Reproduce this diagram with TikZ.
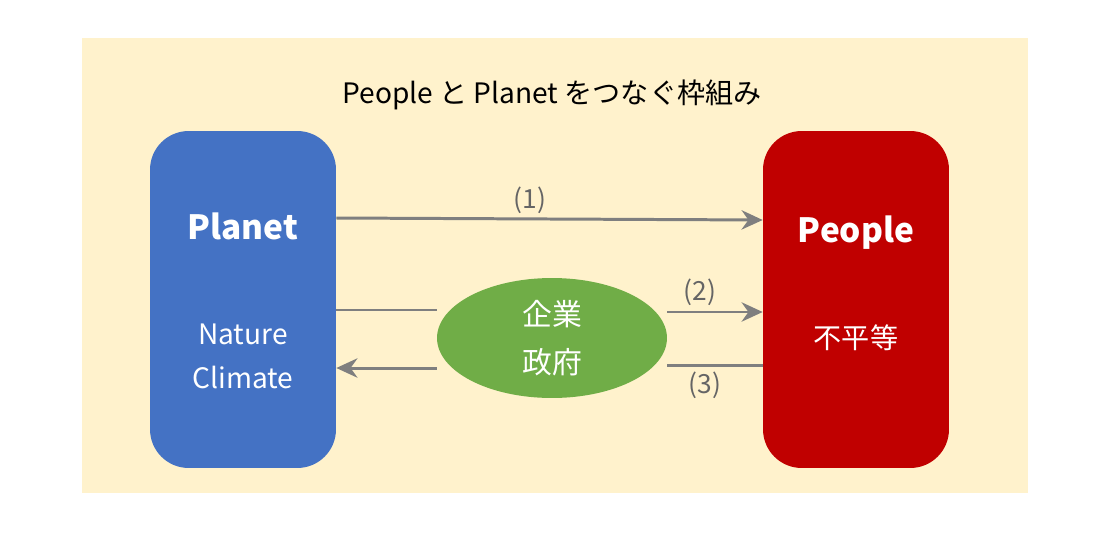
\documentclass[tikz,border=0pt]{standalone}
\usepackage{fontspec}
\setmainfont{Noto Sans CJK JP}
\usetikzlibrary{positioning,shapes.geometric,arrows.meta}
\definecolor{bgyellow}{HTML}{FFF2CC}
\definecolor{planetblue}{HTML}{4472C4}
\definecolor{peoplered}{HTML}{C00000}
\definecolor{actorgreen}{HTML}{70AD47}
\definecolor{flowgray}{HTML}{7F7F7F}
\tikzset{
  sidebox/.style={rounded corners=22pt, minimum width=3.72cm, minimum height=6.74cm, inner sep=0pt},
  flow/.style={draw=flowgray, line width=1.7pt, -{Stealth[length=12pt,width=11pt]}},
  flowplain/.style={draw=flowgray, line width=1.7pt},
  numlabel/.style={text=flowgray!80!black, font=\fontsize{15}{18}\selectfont}
}
\begin{document}
\begin{tikzpicture}[x=0.02cm, y=-0.02cm]
    \useasboundingbox (0,0) rectangle (1111,541);
    \fill[bgyellow] (82,38) rectangle (1028,493);
    \node (title) at (552,95) {\fontsize{16}{19}\selectfont People と Planet をつなぐ枠組み};
    \node[sidebox, fill=planetblue] (planet) at (243,299.5) {};
    \node[sidebox, fill=peoplered] (people) at (856,299.5) {};
    \node[text=white, font=\bfseries\fontsize{19}{22}\selectfont] (planettitle) at (243,226) {Planet};
    \node[text=white, align=center, font=\fontsize{16}{25}\selectfont] (planetsub) at (243,356) {Nature\\Climate};
    \node[text=white, font=\bfseries\fontsize{19}{22}\selectfont] (peopletitle) at (856,233) {People};
    \node[text=white, font=\fontsize{16}{19}\selectfont] (peoplesub) at (856,338) {不平等};
    \node[ellipse, fill=actorgreen, minimum width=4.6cm, minimum height=2.4cm] (actors) at (552,338) {};
    \node[text=white, align=center, font=\fontsize{17}{27}\selectfont] (actorname) at (552,338) {企業\\政府};
    % (1)
    \draw[flow] (planet.east |- 0,218) -- (people.west |- 0,220);
    \node[numlabel] (one) at (530,200) {(1)};
    % (2)
    \draw[flowplain] (planet.east |- 0,310) -- (actors.west |- 0,310);
    \draw[flow] (actors.east |- 0,312) -- (people.west |- 0,312);
    \node[numlabel] (two) at (700,292) {(2)};
    % (3)
    \draw[flowplain] (people.west |- 0,365) -- (actors.east |- 0,365);
    \draw[flow] (actors.west |- 0,368) -- (planet.east |- 0,368);
    \node[numlabel] (three) at (705,385) {(3)};
\end{tikzpicture}
\end{document}
